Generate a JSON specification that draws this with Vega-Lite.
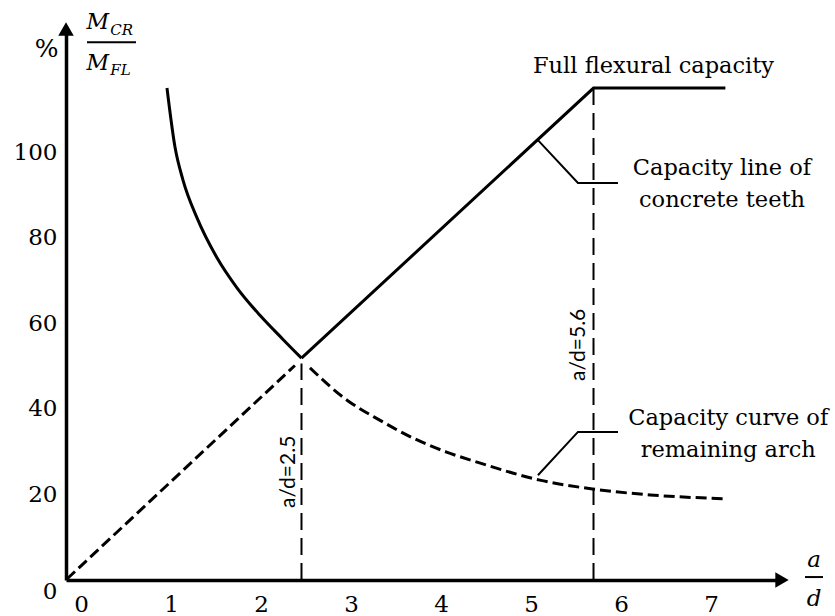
{
  "$schema": "https://vega.github.io/schema/vega-lite/v6.json",
  "width": 716,
  "height": 551,
  "autosize": {"type": "none"},
  "padding": {"left": 66, "top": 29, "right": 53, "bottom": 36},
  "background": "white",
  "config": {"view": {"stroke": null}},
  "datasets": {
    "capacity": [
      {"series": "remaining arch (governing)", "ad": 1.072, "ratio": 100},
      {"series": "remaining arch (governing)", "ad": 1.157, "ratio": 88.0},
      {"series": "remaining arch (governing)", "ad": 1.242, "ratio": 81.3},
      {"series": "remaining arch (governing)", "ad": 1.391, "ratio": 73.6},
      {"series": "remaining arch (governing)", "ad": 1.603, "ratio": 65.5},
      {"series": "remaining arch (governing)", "ad": 1.815, "ratio": 59.4},
      {"series": "remaining arch (governing)", "ad": 2.059, "ratio": 53.8},
      {"series": "remaining arch (governing)", "ad": 2.304, "ratio": 48.9},
      {"series": "remaining arch (governing)", "ad": 2.5, "ratio": 45.1},
      {"series": "concrete teeth (governing)", "ad": 2.5, "ratio": 45.1},
      {"series": "concrete teeth (governing)", "ad": 5.6, "ratio": 100},
      {"series": "concrete teeth (governing)", "ad": 7.0, "ratio": 100},
      {"series": "concrete teeth (beyond)", "ad": 0.01, "ratio": 0.2},
      {"series": "concrete teeth (beyond)", "ad": 2.43, "ratio": 43.6},
      {"series": "remaining arch (beyond)", "ad": 2.59, "ratio": 43.1},
      {"series": "remaining arch (beyond)", "ad": 2.98, "ratio": 36.6},
      {"series": "remaining arch (beyond)", "ad": 3.33, "ratio": 32.5},
      {"series": "remaining arch (beyond)", "ad": 3.68, "ratio": 28.9},
      {"series": "remaining arch (beyond)", "ad": 4.04, "ratio": 26.0},
      {"series": "remaining arch (beyond)", "ad": 4.39, "ratio": 23.8},
      {"series": "remaining arch (beyond)", "ad": 4.75, "ratio": 21.7},
      {"series": "remaining arch (beyond)", "ad": 5.03, "ratio": 20.3},
      {"series": "remaining arch (beyond)", "ad": 5.59, "ratio": 18.5},
      {"series": "remaining arch (beyond)", "ad": 6.2, "ratio": 17.3},
      {"series": "remaining arch (beyond)", "ad": 7.02, "ratio": 16.5}
    ],
    "thresholds": [
      {"ad": 2.5, "base": 0, "ratio": 44.0, "label": "a/d=2.5", "labelAd": 2.37, "labelRatio": 22.0},
      {"ad": 5.6, "base": 0, "ratio": 100, "label": "a/d=5.6", "labelAd": 5.45, "labelRatio": 47.8}
    ],
    "leaders": [
      {"leader": "teeth", "ad": 5.01, "ratio": 89.4},
      {"leader": "teeth", "ad": 5.435, "ratio": 80.7},
      {"leader": "teeth", "ad": 5.86, "ratio": 80.7},
      {"leader": "arch", "ad": 5.01, "ratio": 21.3},
      {"leader": "arch", "ad": 5.435, "ratio": 30.1},
      {"leader": "arch", "ad": 5.86, "ratio": 30.1}
    ],
    "annotations": [
      {"ad": 6.237, "ratio": 103.0, "text": "Full flexural capacity"},
      {"ad": 6.964, "ratio": 82.3, "text": "Capacity line of"},
      {"ad": 6.964, "ratio": 75.8, "text": "concrete teeth"},
      {"ad": 7.03, "ratio": 31.5, "text": "Capacity curve of"},
      {"ad": 7.03, "ratio": 25.0, "text": "remaining arch"}
    ],
    "yTitleLetters": [
      {"ad": 0.218, "ratio": 112.0, "text": "M"},
      {"ad": 0.218, "ratio": 103.7, "text": "M"}
    ],
    "yTitleSubscripts": [
      {"ad": 0.47, "ratio": 110.8, "text": "CR"},
      {"ad": 0.47, "ratio": 102.6, "text": "FL"}
    ],
    "xTitleLetters": [
      {"ad": 7.941, "ratio": 2.6, "text": "a"},
      {"ad": 7.941, "ratio": -5.2, "text": "d"}
    ],
    "fractionBars": [
      {"ad": 0.223, "ad2": 0.743, "ratio": 109.3},
      {"ad": 7.845, "ad2": 8.036, "ratio": 0.6}
    ],
    "axisEnds": [
      {"axis": "y", "ad": -0.1667, "ratio": 128.74},
      {"axis": "x", "ad": 7.789, "ratio": 0}
    ]
  },
  "layer": [
    {
      "layer": [
        {
          "data": {"name": "capacity"},
          "transform": [{"filter": "datum.series === 'remaining arch (governing)'"}],
          "mark": {"type": "line", "color": "black", "strokeWidth": 3, "interpolate": "monotone"},
          "encoding": {
            "x": {"field": "ad", "type": "quantitative", "scale": {"domain": [0, 7.601], "nice": false, "zero": false}, "axis": null},
            "y": {"field": "ratio", "type": "quantitative", "scale": {"domain": [0, 112.0], "nice": false, "zero": false}, "axis": null}
          }
        },
        {
          "data": {"name": "capacity"},
          "transform": [{"filter": "datum.series === 'concrete teeth (governing)'"}],
          "mark": {"type": "line", "color": "black", "strokeWidth": 3, "strokeJoin": "miter"},
          "encoding": {
            "x": {"field": "ad", "type": "quantitative", "scale": {"domain": [0, 7.601], "nice": false, "zero": false}, "axis": null},
            "y": {"field": "ratio", "type": "quantitative", "scale": {"domain": [0, 112.0], "nice": false, "zero": false}, "axis": null}
          }
        },
        {
          "data": {"name": "capacity"},
          "transform": [{"filter": "datum.series === 'concrete teeth (beyond)'"}],
          "mark": {"type": "line", "color": "black", "strokeWidth": 3, "strokeDash": [11, 5]},
          "encoding": {
            "x": {"field": "ad", "type": "quantitative", "scale": {"domain": [0, 7.601], "nice": false, "zero": false}, "axis": null},
            "y": {"field": "ratio", "type": "quantitative", "scale": {"domain": [0, 112.0], "nice": false, "zero": false}, "axis": null}
          }
        },
        {
          "data": {"name": "capacity"},
          "transform": [{"filter": "datum.series === 'remaining arch (beyond)'"}],
          "mark": {"type": "line", "color": "black", "strokeWidth": 3, "strokeDash": [11, 5], "interpolate": "monotone"},
          "encoding": {
            "x": {"field": "ad", "type": "quantitative", "scale": {"domain": [0, 7.601], "nice": false, "zero": false}, "axis": null},
            "y": {"field": "ratio", "type": "quantitative", "scale": {"domain": [0, 112.0], "nice": false, "zero": false}, "axis": null}
          }
        },
        {
          "data": {"name": "thresholds"},
          "mark": {"type": "rule", "color": "black", "strokeWidth": 2, "strokeDash": [17, 8]},
          "encoding": {
            "x": {"field": "ad", "type": "quantitative", "scale": {"domain": [0, 7.601], "nice": false, "zero": false}, "axis": null},
            "y": {"field": "base", "type": "quantitative", "scale": {"domain": [0, 112.0], "nice": false, "zero": false}, "axis": null},
            "y2": {"field": "ratio"}
          }
        },
        {
          "data": {"name": "leaders"},
          "mark": {"type": "line", "color": "black", "strokeWidth": 2},
          "encoding": {
            "x": {"field": "ad", "type": "quantitative", "scale": {"domain": [0, 7.601], "nice": false, "zero": false}, "axis": null},
            "y": {"field": "ratio", "type": "quantitative", "scale": {"domain": [0, 112.0], "nice": false, "zero": false}, "axis": null},
            "detail": {"field": "leader", "type": "nominal"}
          }
        },
        {
          "data": {"name": "thresholds"},
          "mark": {"type": "text", "angle": 270, "align": "center", "baseline": "middle", "font": "Lato", "fontSize": 21, "color": "black"},
          "encoding": {
            "x": {"field": "labelAd", "type": "quantitative", "scale": {"domain": [0, 7.601], "nice": false, "zero": false}, "axis": null},
            "y": {"field": "labelRatio", "type": "quantitative", "scale": {"domain": [0, 112.0], "nice": false, "zero": false}, "axis": null},
            "text": {"field": "label"}
          }
        },
        {
          "data": {"name": "annotations"},
          "mark": {"type": "text", "align": "center", "baseline": "alphabetic", "font": "DejaVu Serif", "fontSize": 22.5, "color": "black"},
          "encoding": {
            "x": {"field": "ad", "type": "quantitative", "scale": {"domain": [0, 7.601], "nice": false, "zero": false}, "axis": null},
            "y": {"field": "ratio", "type": "quantitative", "scale": {"domain": [0, 112.0], "nice": false, "zero": false}, "axis": null},
            "text": {"field": "text"}
          }
        },
        {
          "data": {"name": "yTitleLetters"},
          "mark": {"type": "text", "align": "left", "baseline": "alphabetic", "font": "DejaVu Serif", "fontStyle": "italic", "fontSize": 22, "color": "black"},
          "encoding": {
            "x": {"field": "ad", "type": "quantitative", "scale": {"domain": [0, 7.601], "nice": false, "zero": false}, "axis": null},
            "y": {"field": "ratio", "type": "quantitative", "scale": {"domain": [0, 112.0], "nice": false, "zero": false}, "axis": null},
            "text": {"field": "text"}
          }
        },
        {
          "data": {"name": "yTitleSubscripts"},
          "mark": {"type": "text", "align": "left", "baseline": "alphabetic", "font": "DejaVu Serif", "fontStyle": "italic", "fontSize": 15, "color": "black"},
          "encoding": {
            "x": {"field": "ad", "type": "quantitative", "scale": {"domain": [0, 7.601], "nice": false, "zero": false}, "axis": null},
            "y": {"field": "ratio", "type": "quantitative", "scale": {"domain": [0, 112.0], "nice": false, "zero": false}, "axis": null},
            "text": {"field": "text"}
          }
        },
        {
          "data": {"name": "xTitleLetters"},
          "mark": {"type": "text", "align": "center", "baseline": "alphabetic", "font": "DejaVu Serif", "fontStyle": "italic", "fontSize": 23, "color": "black"},
          "encoding": {
            "x": {"field": "ad", "type": "quantitative", "scale": {"domain": [0, 7.601], "nice": false, "zero": false}, "axis": null},
            "y": {"field": "ratio", "type": "quantitative", "scale": {"domain": [0, 112.0], "nice": false, "zero": false}, "axis": null},
            "text": {"field": "text"}
          }
        },
        {
          "data": {"name": "fractionBars"},
          "mark": {"type": "rule", "color": "black", "strokeWidth": 2},
          "encoding": {
            "x": {"field": "ad", "type": "quantitative", "scale": {"domain": [0, 7.601], "nice": false, "zero": false}, "axis": null},
            "x2": {"field": "ad2"},
            "y": {"field": "ratio", "type": "quantitative", "scale": {"domain": [0, 112.0], "nice": false, "zero": false}, "axis": null}
          }
        }
      ]
    },
    {
      "data": {"name": "axisEnds"},
      "mark": {"type": "point", "filled": true, "size": 240, "color": "black", "opacity": 1},
      "encoding": {
        "x": {
          "field": "ad", "type": "quantitative",
          "scale": {"domain": [-0.1667, 7.789], "nice": false, "zero": false},
          "axis": {
            "orient": "bottom", "values": [0, 1, 2, 3, 4, 5, 6, 7], "format": "d",
            "ticks": false, "tickSize": 0, "grid": false,
            "domainColor": "black", "domainWidth": 3.5,
            "labelFont": "DejaVu Serif", "labelFontSize": 23, "labelColor": "black",
            "labelPadding": 13, "labelFlush": false, "labelOverlap": false,
            "title": null
          }
        },
        "y": {
          "field": "ratio", "type": "quantitative",
          "scale": {"domain": [0, 128.74], "nice": false, "zero": false},
          "axis": {
            "orient": "left", "values": [0, 20, 40, 60, 80, 100], "format": "d",
            "ticks": false, "tickSize": 0, "grid": false,
            "domainColor": "black", "domainWidth": 3.5,
            "labelFont": "DejaVu Serif", "labelFontSize": 23, "labelColor": "black",
            "labelPadding": 9, "labelFlush": false, "labelOverlap": false,
            "labelBaseline": {"condition": {"test": "datum.value === 0", "value": "top"}, "value": "middle"},
            "title": "%", "titleAngle": 0, "titleX": -20, "titleY": 19,
            "titleAlign": "center", "titleBaseline": "middle",
            "titleFont": "DejaVu Serif", "titleFontSize": 25, "titleFontWeight": "normal", "titleColor": "black"
          }
        },
        "shape": {
          "field": "axis", "type": "nominal",
          "scale": {"domain": ["x", "y"], "range": ["triangle-right", "triangle-up"]},
          "legend": null
        }
      }
    }
  ],
  "resolve": {"scale": {"x": "independent", "y": "independent"}}
}
